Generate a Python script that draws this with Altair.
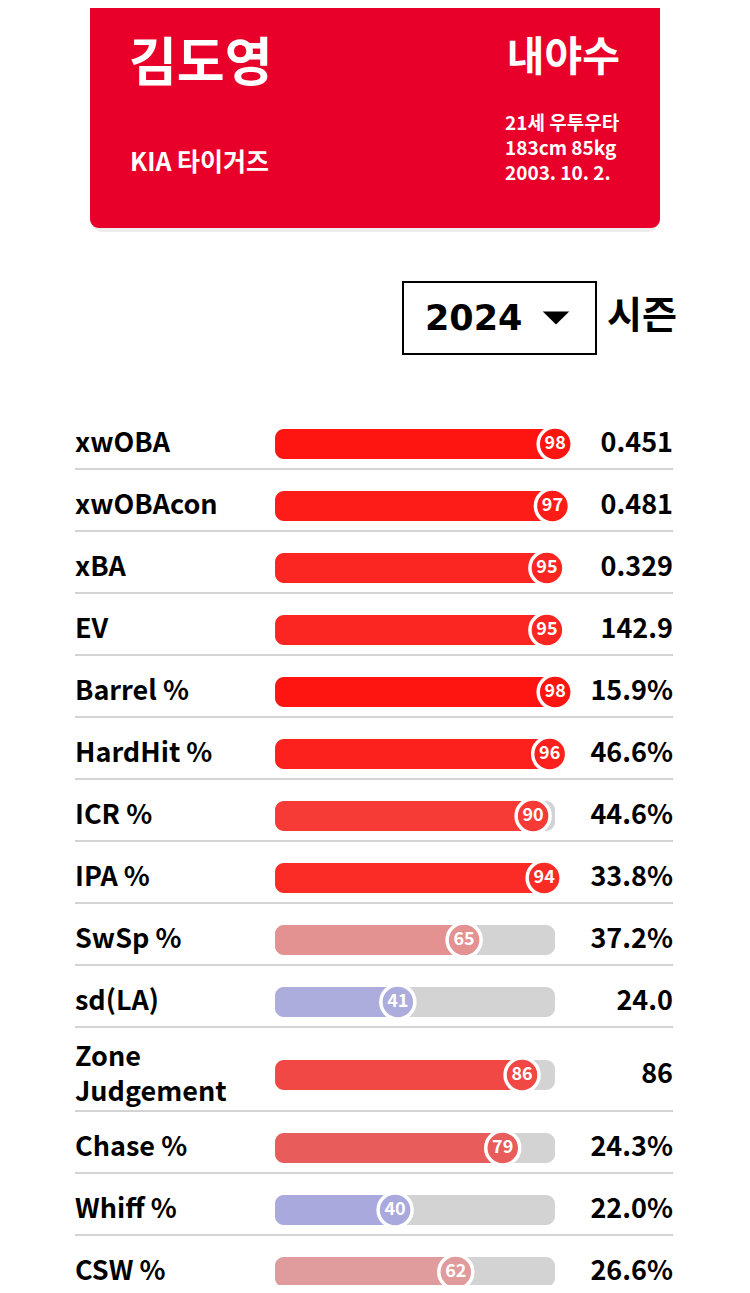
import altair as alt
import pandas as pd

# ---- data ----
metrics = ["xwOBA", "xwOBAcon", "xBA", "EV", "Barrel %", "HardHit %", "ICR %", "IPA %",
           "SwSp %", "sd(LA)", "Zone\nJudgement", "Chase %", "Whiff %", "CSW %"]
percentiles = [98, 97, 95, 95, 98, 96, 90, 94, 65, 41, 86, 79, 40, 62]
values = ["0.451", "0.481", "0.329", "142.9", "15.9%", "46.6%", "44.6%", "33.8%",
          "37.2%", "24.0", "86", "24.3%", "22.0%", "26.6%"]

player_name = "김도영"
team_name = "KIA 타이거즈"
position = "내야수"
bio_lines = ["21세 우투우타", "183cm 85kg", "2003. 10. 2."]
season = "2024"
season_label = "시즌"

# ---- layout ----
W, H = 734, 1277
FONT = "Noto Sans CJK KR"
ROW_START = 399
BAR_H = 30
LINE_H = 35

rows = []
top = ROW_START
for m, p, v in zip(metrics, percentiles, values):
    lines = m.count("\n") + 1
    content = BAR_H + 22 * (lines - 1)
    h = content + 32
    yc = top + 22 + content / 2
    rows.append(dict(metric=m, pct=p, value=v, yc=yc, ly=yc - (lines - 1) * LINE_H / 2,
                     yt=yc - BAR_H / 2, yb=yc + BAR_H / 2, sep=top + h))
    top += h
df = pd.DataFrame(rows)
df_sep = df.iloc[:-1]

yscale = alt.Scale(domain=[0, H], range=[0, H], nice=False, zero=False)
xscale = alt.Scale(domain=[0, 100], range=[276.7, 552.7], nice=False, zero=False)
cscale = alt.Scale(domain=[0, 40, 50, 60, 80, 100],
                   range=["#5a5ad0", "#a9a9de", "#d3d3d3", "#dea3a3", "#e85858", "#ff0000"])

one = pd.DataFrame({"k": [0]})


def txt(text, x, y, size, align="left", color="white", weight="bold", font=FONT):
    return alt.Chart(pd.DataFrame({"t": [text]})).mark_text(
        align=align, baseline="middle", fontSize=size, font=font,
        fontWeight=weight, color=color
    ).encode(x=alt.value(x), y=alt.value(y), text="t:N")


def box(x, x2, y, y2, **kw):
    return alt.Chart(one).mark_rect(**kw).encode(
        x=alt.value(x), x2=alt.value(x2), y=alt.value(y), y2=alt.value(y2))


# header card
shadow = box(84, 650, -30, 224, color="#000000", opacity=0.07, cornerRadius=10)
card = box(82, 652, -30, 220, color="#E9002A", cornerRadius=9)
t_name = txt(player_name, 121, 57, 52)
t_pos = txt(position, 612, 51, 41, align="right")
t_team = txt(team_name, 122, 155, 25)
t_bio = [txt(s, 497, 116 + 25 * i, 19) for i, s in enumerate(bio_lines)]

# season dropdown
dd = box(395, 588, 274, 346, fill="white", stroke="black", strokeWidth=2)
t_season = txt(season, 417, 311, 35, color="black", font="DejaVu Sans")
tri = alt.Chart(one).mark_point(
    shape="M-1,-0.5L1,-0.5L0,0.5Z", filled=True, color="black", size=700, opacity=1
).encode(x=alt.value(548), y=alt.value(310))
t_slabel = txt(season_label, 599, 309, 38, color="black")

# rows
base = alt.Chart(df)
sep = alt.Chart(df_sep).mark_rule(color="#d3d3d3", strokeWidth=2).encode(
    x=alt.value(67), x2=alt.value(665), y=alt.Y("sep:Q", scale=yscale, axis=None))
labels = base.mark_text(align="left", baseline="middle", fontSize=27, font=FONT,
                        fontWeight="bold", color="black", lineBreak="\n", lineHeight=LINE_H
                        ).encode(x=alt.value(67), y=alt.Y("ly:Q", scale=yscale, axis=None),
                                 text="metric:N")
track = base.mark_rect(color="#d3d3d3", cornerRadius=9).encode(
    x=alt.value(267), x2=alt.value(547),
    y=alt.Y("yt:Q", scale=yscale, axis=None), y2="yb:Q")
fill = base.mark_rect(cornerRadius=9).encode(
    x=alt.X("zero:Q", scale=xscale, axis=None),
    x2="pct:Q",
    y=alt.Y("yt:Q", scale=yscale, axis=None), y2="yb:Q",
    color=alt.Color("pct:Q", scale=cscale, legend=None)
).transform_calculate(zero="-3.5")
dots = base.mark_circle(size=1156, opacity=1, stroke="white", strokeWidth=3.5).encode(
    x=alt.X("pct:Q", scale=xscale, axis=None),
    y=alt.Y("yc:Q", scale=yscale, axis=None),
    color=alt.Color("pct:Q", scale=cscale, legend=None))
pct_text = base.mark_text(align="center", baseline="middle", fontSize=18, font=FONT,
                          fontWeight="bold", color="white").encode(
    x=alt.X("pct:Q", scale=xscale, axis=None),
    y=alt.Y("yc:Q", scale=yscale, axis=None), text="pct:Q")
val_text = base.mark_text(align="right", baseline="middle", fontSize=27, font=FONT,
                          fontWeight="bold", color="black").encode(
    x=alt.value(665), y=alt.Y("yc:Q", scale=yscale, axis=None), text="value:N")

chart = alt.layer(
    shadow, card, t_name, t_pos, t_team, *t_bio,
    dd, t_season, tri, t_slabel,
    sep, labels, track, fill, dots, pct_text, val_text
).properties(
    width=W, height=H, padding=0, autosize=alt.AutoSizeParams(type="none"),
    background="white"
).configure_view(stroke=None)

chart.save("out.html", embed_options={"renderer": "svg", "actions": False})
